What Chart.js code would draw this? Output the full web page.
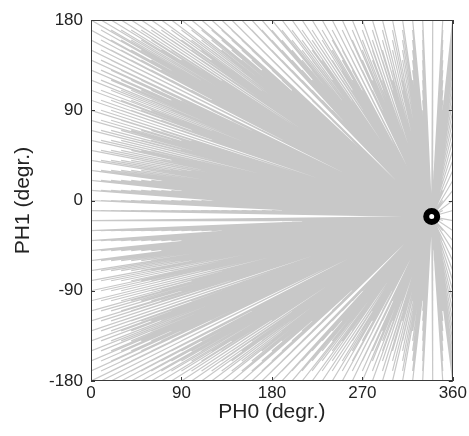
<!DOCTYPE html>
<html>
<head>
<meta charset="utf-8">
<script src="https://cdn.jsdelivr.net/npm/chart.js@4/dist/chart.umd.min.js"></script>
<style>
html,body{margin:0;padding:0;background:#fff;}
#wrap{width:469px;height:436px;position:relative;}
</style>
</head>
<body>
<div id="wrap"><canvas id="c" width="469" height="436"></canvas></div>
<script>
const startPH0 = [0,10,20,30,40,50,60,70,80,90,100,110,120,130,140,150,160,170,180,190,200,210,220,230,240,250,260,270,280,290,300,310,320,330,340,350,360];
const startPH1 = [-180,-170,-160,-150,-140,-130,-120,-110,-100,-90,-80,-70,-60,-50,-40,-30,-20,-10,0,10,20,30,40,50,60,70,80,90,100,110,120,130,140,150,160,170,180];
// Converged optimum (black marker)
const optimumPH0 = [339];
const optimumPH1 = [-16];
// Tick labels
const xTicks = [0, 90, 180, 270, 360];
const yTicks = [-180, -90, 0, 90, 180];

const lineData = [];
for (const p0 of startPH0) {
  for (const p1 of startPH1) {
    lineData.push({x: p0, y: p1});
    lineData.push({x: optimumPH0[0], y: optimumPH1[0]});
    lineData.push({x: p0, y: null});
  }
}

const FONT = '"Liberation Sans", Arial, Helvetica, sans-serif';

const framePlugin = {
  id: 'frame',
  afterDatasetsDraw(chart) {
    const {ctx, chartArea: a, scales: {x, y}} = chart;
    ctx.save();
    ctx.strokeStyle = '#3a3a3a';
    ctx.lineWidth = 1;
    ctx.beginPath();
    const tl = 4;
    for (const v of xTicks) {
      const px = Math.round(x.getPixelForValue(v)) + 0.5;
      ctx.moveTo(px, a.bottom); ctx.lineTo(px, a.bottom - tl);
      ctx.moveTo(px, a.top); ctx.lineTo(px, a.top + tl);
    }
    for (const v of yTicks) {
      const py = Math.round(y.getPixelForValue(v)) + 0.5;
      ctx.moveTo(a.left, py); ctx.lineTo(a.left + tl, py);
      ctx.moveTo(a.right, py); ctx.lineTo(a.right - tl, py);
    }
    ctx.stroke();
    ctx.strokeRect(Math.round(a.left) + 0.5, Math.round(a.top) + 0.5,
                   Math.round(a.right - a.left) - 1, Math.round(a.bottom - a.top) - 1);
    ctx.restore();
  }
};

new Chart(document.getElementById('c'), {
  type: 'scatter',
  data: {
    datasets: [
      {
        data: lineData,
        showLine: true,
        spanGaps: false,
        borderColor: 'rgb(200,200,200)',
        borderWidth: 1.2,
        pointRadius: 0,
        pointHoverRadius: 0,
        order: 2
      },
      {
        data: optimumPH0.map((v, i) => ({x: v, y: optimumPH1[i]})),
        showLine: false,
        pointStyle: 'circle',
        pointRadius: 5.5,
        pointBorderWidth: 6,
        pointBackgroundColor: '#fff',
        pointBorderColor: '#000',
        order: 1
      }
    ]
  },
  options: {
    responsive: false,
    animation: false,
    events: [],
    layout: {padding: {left: 0, right: 16, top: 20, bottom: 0}},
    plugins: {legend: {display: false}, tooltip: {enabled: false}},
    scales: {
      x: {
        type: 'linear', min: 0, max: 360,
        afterFit(s) { s.height = 55; },
        afterBuildTicks(s) { s.ticks = xTicks.map(v => ({value: v})); },
        grid: {display: false, drawTicks: false},
        border: {display: false},
        ticks: {color: '#222', padding: 2, font: {family: FONT, size: 17}, maxRotation: 0},
        title: {display: true, text: 'PH0 (degr.)', color: '#222', font: {family: FONT, size: 21}, padding: {top: 0, bottom: 11}}
      },
      y: {
        type: 'linear', min: -180, max: 180,
        afterFit(s) { s.width = 91; },
        afterBuildTicks(s) { s.ticks = yTicks.map(v => ({value: v})); },
        grid: {display: false, drawTicks: false},
        border: {display: false},
        ticks: {color: '#222', padding: 8, font: {family: FONT, size: 17}},
        title: {display: true, text: 'PH1 (degr.)', color: '#222', font: {family: FONT, size: 21}, padding: {top: 11, bottom: 0}}
      }
    }
  },
  plugins: [framePlugin]
});
</script>
</body>
</html>
